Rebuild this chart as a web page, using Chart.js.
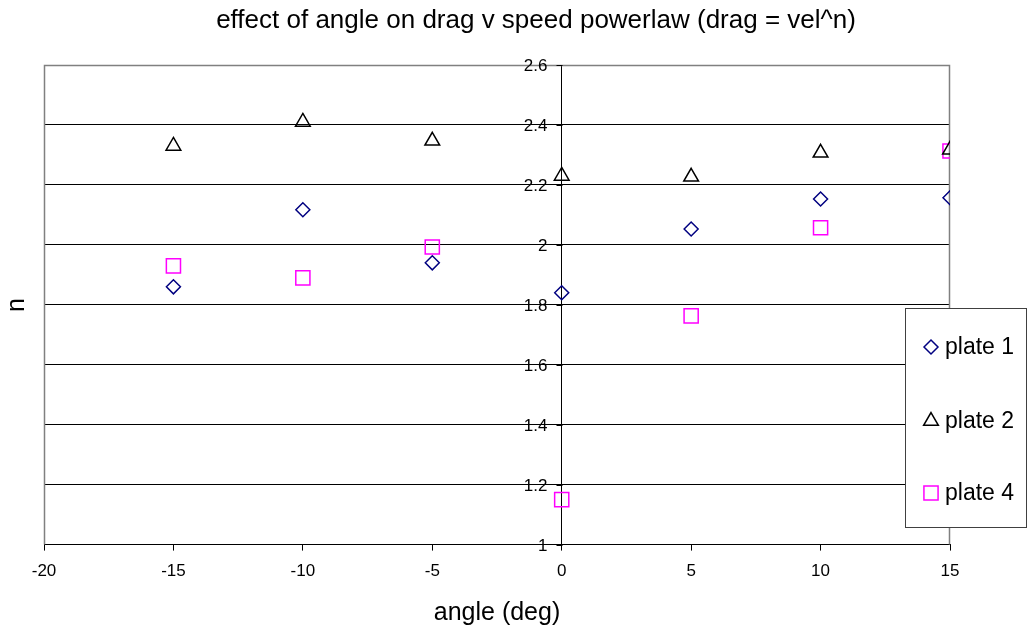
<!DOCTYPE html>
<html>
<head>
<meta charset="utf-8">
<script src="https://cdn.jsdelivr.net/npm/chart.js@4/dist/chart.umd.min.js"></script>
<style>
  body { margin: 0; background: #fff; }
  #wrap { width: 1028px; height: 630px; position: relative; }
</style>
</head>
<body>
<div id="wrap"><canvas id="chart"></canvas></div>
<script>
// values
const angles = [-15, -10, -5, 0, 5, 10, 15];
const plate1 = [1.86, 2.117, 1.94, 1.84, 2.053, 2.153, 2.157];
const plate2 = [2.33, 2.41, 2.347, 2.23, 2.227, 2.307, 2.317];
const plate4 = [1.93, 1.89, 1.993, 1.15, 1.763, 2.057, 2.313];

const seriesNames = ["plate 1", "plate 2", "plate 4"];
const xTicks = [-20, -15, -10, -5, 0, 5, 10, 15];
const yTicks = [1, 1.2, 1.4, 1.6, 1.8, 2, 2.2, 2.4, 2.6];

const chartTitle = "effect of angle on drag v speed powerlaw (drag = vel^n)";
const xTitle = "angle (deg)";
const yTitle = "n";

const FONT = "'Liberation Sans', Arial, sans-serif";

function toPoints(ys) {
  return angles.map((a, i) => ({ x: a, y: ys[i] }));
}

const styles = [
  { color: "#000080", pointStyle: "rectRot", radius: 7 },
  { color: "#000000", pointStyle: "triangle", radius: 8.5 },
  { color: "#ff00ff", pointStyle: "rect", radius: 10 },
];

const datasets = [plate1, plate2, plate4].map((ys, i) => ({
  label: seriesNames[i],
  data: toPoints(ys),
  showLine: false,
  pointStyle: styles[i].pointStyle,
  pointRadius: styles[i].radius,
  pointHoverRadius: styles[i].radius,
  borderColor: styles[i].color,
  backgroundColor: "rgba(0,0,0,0)",
  pointBorderWidth: 1.5,
}));

// gray plot frame, y-axis ticks + labels at x=0, and the titles
const decor = {
  id: "decor",
  beforeDatasetsDraw(chart) {
    const { ctx, chartArea: a, scales } = chart;
    ctx.save();
    ctx.strokeStyle = "#808080";
    ctx.lineWidth = 1.5;
    ctx.beginPath();
    ctx.moveTo(a.left + 0.5, a.bottom);
    ctx.lineTo(a.left + 0.5, a.top + 0.5);
    ctx.lineTo(a.right - 0.5, a.top + 0.5);
    ctx.lineTo(a.right - 0.5, a.bottom);
    ctx.stroke();

    // y tick marks and labels beside the axis at x = 0
    const x0 = Math.round(scales.x.getPixelForValue(0)) + 0.5;
    ctx.strokeStyle = "#000";
    ctx.lineWidth = 1;
    ctx.fillStyle = "#000";
    ctx.font = "17px " + FONT;
    ctx.textAlign = "right";
    ctx.textBaseline = "middle";
    yTicks.forEach((v) => {
      const y = Math.round(scales.y.getPixelForValue(v)) + 0.5;
      ctx.beginPath();
      ctx.moveTo(x0 - 6, y);
      ctx.lineTo(x0, y);
      ctx.stroke();
      ctx.fillText(String(+v.toFixed(1)), x0 - 15, y + 1);
    });

    // titles
    ctx.textAlign = "center";
    ctx.font = "26px " + FONT;
    ctx.fillText(chartTitle, 536, 21);
    ctx.font = "25px " + FONT;
    ctx.fillText(xTitle, (a.left + a.right) / 2, 613);
    ctx.translate(17, 305);
    ctx.rotate(-Math.PI / 2);
    ctx.fillText(yTitle, 0, 0);
    ctx.restore();
  },
};

// boxed legend sitting over the right edge of the plot
const boxLegend = {
  id: "boxLegend",
  afterDraw(chart) {
    const ctx = chart.ctx;
    const left = 905, top = 308, right = 1027, bottom = 528;
    ctx.save();
    ctx.fillStyle = "#fff";
    ctx.fillRect(left, top, right - left, bottom - top);
    ctx.strokeStyle = "#404040";
    ctx.lineWidth = 1;
    ctx.strokeRect(left + 0.5, top + 0.5, right - left - 1, bottom - top - 1);
    const rows = [347, 421, 493];
    ctx.font = "23px " + FONT;
    ctx.textBaseline = "middle";
    ctx.textAlign = "left";
    seriesNames.forEach((name, i) => {
      ctx.strokeStyle = styles[i].color;
      ctx.fillStyle = "rgba(0,0,0,0)";
      ctx.lineWidth = 1.5;
      Chart.helpers.drawPoint(ctx, {
        pointStyle: styles[i].pointStyle,
        radius: styles[i].radius,
        rotation: 0,
        borderWidth: 1.5,
      }, 931, rows[i]);
      ctx.fillStyle = "#000";
      ctx.fillText(name, 945, rows[i] + 1);
    });
    ctx.restore();
  },
};

new Chart(document.getElementById("chart"), {
  type: "scatter",
  data: { datasets: datasets },
  plugins: [decor, boxLegend],
  options: {
    responsive: true,
    maintainAspectRatio: false,
    animation: false,
    layout: { padding: { left: 44, right: 78, top: 65, bottom: 37 } },
    plugins: {
      legend: { display: false },
      tooltip: { enabled: false },
      title: { display: false },
    },
    scales: {
      x: {
        type: "linear",
        min: -20,
        max: 15,
        afterBuildTicks: (s) => { s.ticks = xTicks.map((v) => ({ value: v })); },
        grid: { drawOnChartArea: false, drawTicks: true, tickLength: 6, color: "#000" },
        border: { display: true, color: "#000", width: 1 },
        ticks: { color: "#000", padding: 11, font: { family: FONT, size: 17 } },
      },
      y: {
        type: "linear",
        min: 1,
        max: 2.6,
        position: { x: 0 },
        afterBuildTicks: (s) => { s.ticks = yTicks.map((v) => ({ value: v })); },
        grid: {
          drawOnChartArea: true,
          drawTicks: false,
          color: (c) => (c.tick && c.tick.value === 2.6 ? "#808080" : "#000"),
        },
        border: { display: true, color: "#000", width: 1 },
        ticks: { display: false },
      },
    },
  },
});
</script>
</body>
</html>
